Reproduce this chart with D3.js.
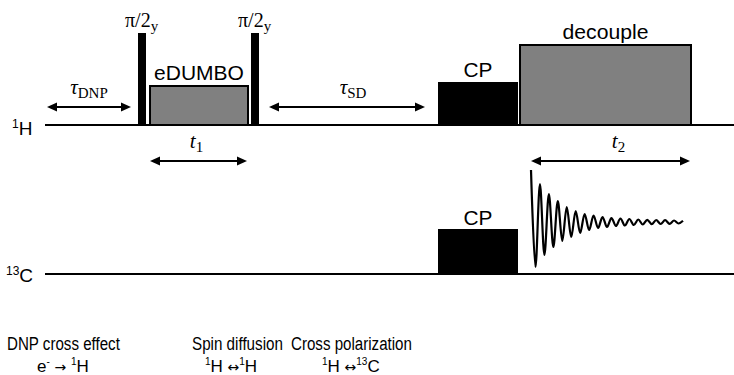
<!DOCTYPE html>
<html>
<head>
<meta charset="utf-8">
<style>
  html, body { margin: 0; padding: 0; background: #fff; }
  svg text { font-family: "Liberation Sans", Arial, sans-serif; fill: #000; }
  svg text.serif { font-family: "Liberation Serif", "Times New Roman", serif; }
  svg tspan.arr { font-family: "DejaVu Sans", sans-serif; }
</style>
</head>
<body>
<svg id="vis" width="734" height="375"></svg>
<script src="https://cdnjs.cloudflare.com/ajax/libs/d3/7.8.5/d3.min.js"></script>
<script>
// channels
var channels = ["1H", "13C"];

// 1H blocks (time units, amplitude in %)
var hBlockName  = ["pi2", "eDUMBO", "pi2", "CP", "decouple"];
var hBlockStart = [104, 115, 217, 404, 485];
var hBlockEnd   = [112, 215, 225, 484, 658];
var hBlockAmp   = [92, 40, 92, 43, 81];
var hBlockFill  = ["solid", "gray", "solid", "solid", "gray"];

// 13C blocks
var cBlockName  = ["CP"];
var cBlockStart = [404];
var cBlockEnd   = [484];
var cBlockAmp   = [45];

// FID on 13C, extremes
var fidStart = 497, fidEnd = 649, fidLevel = 52;
var fidPeaks = [52, -45, 38, -33, 28, -25, 21, -19, 15, -15, 11, -11, 8, -8, 6.5, -6,
                5, -5, 4, -4, 3.5, -3.5, 3, -3, 2.5, -2.5, 2.2, -2.2, 2, -2, 1.8, -1.8, 1.5, -1.5, 1.2];

// delays on 1H
var delaySym   = ["τ", "t", "τ", "t"];
var delaySub   = ["DNP", "1", "SD", "2"];
var delayStart = [13, 116, 235, 497];
var delayEnd   = [97, 213, 391, 656];
var delaySide  = ["above", "below", "above", "below"];

// transfer steps under the sequence
var stepTitle = ["DNP cross effect", "Spin diffusion", "Cross polarization"];
var stepFrom  = ["e", "1H", "1H"];
var stepTo    = ["1H", "1H", "13C"];

var svg = d3.select("#vis");

var x  = d3.scaleLinear().domain([0, 700]).range([34, 734]);
var yH = d3.scaleLinear().domain([0, 100]).range([125, 25]);
var yC = d3.scaleLinear().domain([0, 100]).range([274, 174]);

// channel lines
svg.append("line").attr("x1", x(11)).attr("x2", x(700)).attr("y1", yH(0)).attr("y2", yH(0))
  .attr("stroke", "#000").attr("stroke-width", 2);
svg.append("line").attr("x1", x(11)).attr("x2", x(700)).attr("y1", yC(0)).attr("y2", yC(0))
  .attr("stroke", "#000").attr("stroke-width", 2);

// channel labels
function nucleus(sel, mass, sym) {
  sel.append("tspan").attr("font-size", 12).attr("dy", -7).text(mass);
  sel.append("tspan").attr("font-size", 19).attr("dy", 7).text(sym);
}
nucleus(svg.append("text").attr("x", 12).attr("y", yH(0) + 10), "1", "H");
nucleus(svg.append("text").attr("x", 6).attr("y", yC(0) + 8), "13", "C");

// blocks
function drawBlocks(names, starts, ends, amps, fills, y) {
  names.forEach(function(n, i) {
    var gray = fills[i] == "gray";
    svg.append("rect")
      .attr("x", x(starts[i]) + (gray ? 1 : 0))
      .attr("y", y(amps[i]) + (gray ? 1 : 0))
      .attr("width", x(ends[i]) - x(starts[i]) - (gray ? 2 : 0))
      .attr("height", y(0) - y(amps[i]) - (gray ? 1 : 0))
      .attr("fill", gray ? "#808080" : "#000")
      .attr("stroke", gray ? "#000" : "none")
      .attr("stroke-width", 2);
  });
}
drawBlocks(hBlockName, hBlockStart, hBlockEnd, hBlockAmp, hBlockFill, yH);
drawBlocks(cBlockName, cBlockStart, cBlockEnd, cBlockAmp, cBlockName.map(function() { return "solid"; }), yC);

// text squeezed/stretched to a width, via transform so its box is right
function fitText(px, py, size, width, str) {
  var t = svg.append("text").attr("font-size", size).text(str);
  var sx = width / t.node().getComputedTextLength();
  t.attr("transform", "translate(" + px + "," + py + ") scale(" + sx + ",1)");
  return t;
}

// block labels
var labelWidth = { eDUMBO: 90, CP: 29, decouple: 86 };
hBlockName.forEach(function(n, i) {
  var cx = (x(hBlockStart[i]) + x(hBlockEnd[i])) / 2;
  var top = yH(hBlockAmp[i]);
  if (n == "pi2") {
    var t = svg.append("text").attr("class", "serif").attr("x", cx - 17).attr("y", top - 6).attr("font-size", 20);
    t.append("tspan").text("π/2");
    t.append("tspan").attr("font-size", 15).attr("dy", 4).text("y");
  } else {
    fitText(cx - labelWidth[n] / 2, top - 5, 20, labelWidth[n], n);
  }
});
cBlockName.forEach(function(n, i) {
  var cx = (x(cBlockStart[i]) + x(cBlockEnd[i])) / 2;
  fitText(cx - labelWidth[n] / 2, yC(cBlockAmp[i]) - 4, 20, labelWidth[n], n);
});

// FID
var fx = d3.scaleLinear().domain([0, fidPeaks.length - 1]).range([x(fidStart), x(fidEnd)]);
var fid = d3.line()
  .x(function(d, i) { return fx(i); })
  .y(function(d) { return yC(fidLevel + d); })
  .curve(d3.curveCatmullRom.alpha(0.5));
svg.append("path").attr("d", fid(fidPeaks))
  .attr("fill", "none").attr("stroke", "#000").attr("stroke-width", 2.2);

// delay arrows
function arrow(x1, x2, y) {
  var h = 10, w = 4.5;
  svg.append("line").attr("x1", x1 + 4).attr("x2", x2 - 4).attr("y1", y).attr("y2", y)
    .attr("stroke", "#000").attr("stroke-width", 2);
  svg.append("path").attr("d", "M" + x1 + "," + y + "L" + (x1 + h) + "," + (y - w) + "L" + (x1 + h) + "," + (y + w) + "Z");
  svg.append("path").attr("d", "M" + x2 + "," + y + "L" + (x2 - h) + "," + (y - w) + "L" + (x2 - h) + "," + (y + w) + "Z");
}
var labelShift = [0, -2, 6, 8];
delaySym.forEach(function(s, i) {
  var above = delaySide[i] == "above";
  var ay = above ? yH(0) - 18 : yH(0) + 36;
  arrow(x(delayStart[i]), x(delayEnd[i]), ay);
  var t = svg.append("text").attr("class", "serif")
    .attr("x", (x(delayStart[i]) + x(delayEnd[i])) / 2 + labelShift[i])
    .attr("y", ay - 13)
    .attr("text-anchor", "middle").attr("font-size", 21);
  t.append("tspan").attr("font-style", "italic").text(s);
  t.append("tspan").attr("font-size", 15).attr("dy", 4).text(delaySub[i]);
});

// transfer steps
var stepX = [7, 192, 291];
var stepW = [113, 91, 121];
var stepX2 = [37, 205, 322];
stepTitle.forEach(function(s, i) {
  fitText(stepX[i], 350, 19, stepW[i], s);
  var t = svg.append("text").attr("x", stepX2[i]).attr("y", 372).attr("font-size", 17);
  var from = stepFrom[i], to = stepTo[i];
  if (from == "e") {
    t.append("tspan").text("e");
    t.append("tspan").attr("font-size", 10).attr("dy", -7).text("-");
    t.append("tspan").attr("dy", 7).text(" ");
    t.append("tspan").attr("class", "arr").attr("font-size", 14).text("\u2192");
    t.append("tspan").text(" ");
  } else {
    t.append("tspan").attr("font-size", 10).attr("dy", -7).text(from.replace(/\D/g, ""));
    t.append("tspan").attr("dy", 7).text(from.replace(/\d/g, "") + " ");
    t.append("tspan").attr("class", "arr").attr("font-size", 14).text("\u2194");
  }
  t.append("tspan").attr("font-size", 10).attr("dy", -7).text(to.replace(/\D/g, ""));
  t.append("tspan").attr("dy", 7).text(to.replace(/\d/g, ""));
});
</script>
</body>
</html>
